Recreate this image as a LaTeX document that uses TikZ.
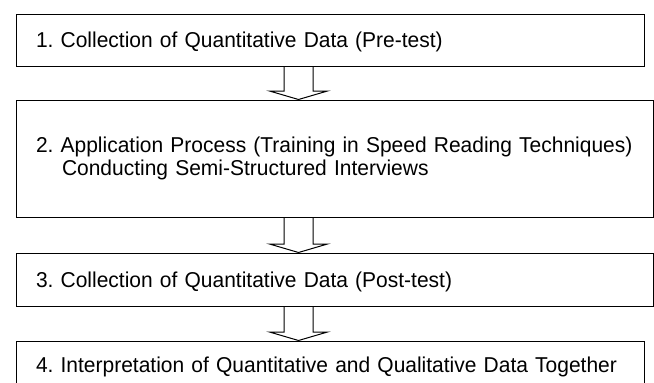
\documentclass[tikz,border=0pt]{standalone}
\usepackage{fontspec}
\setmainfont[FakeStretch=0.976]{Liberation Sans}
\usetikzlibrary{calc}
\frenchspacing

\begin{document}
\begin{tikzpicture}[x=1pt,y=-1pt,
  stagebox/.style={rectangle,draw=black,fill=white,line width=1pt,inner xsep=20pt,inner ysep=0pt,
    align=left,font=\fontsize{21.5}{22.5}\selectfont},
  oneline/.style={text height=15.4pt,text depth=0pt},
  blockarrow/.style={draw=black,line width=1pt,line join=miter}]
\clip (0,0) rectangle (654,383);

\node (b1) at (330,40)[stagebox,oneline,minimum width=628pt,minimum height=52pt,text width=588pt]{\mbox{1. Collection of Quantitative Data (Pre-test)}};
\node (b2) at (334.5,158.5)[stagebox,minimum width=637pt,minimum height=117pt,text width=597pt]{\mbox{2. Application Process (Training in Speed Reading Techniques)}\\\mbox{\hspace*{26pt}Conducting Semi-Structured Interviews}};
\node (b3) at (334.5,279.5)[stagebox,oneline,minimum width=637pt,minimum height=53pt,text width=597pt]{\mbox{3. Collection of Quantitative Data (Post-test)}};
\node (b4) at (330,364.5)[stagebox,oneline,minimum width=628pt,minimum height=47pt,text width=588pt]{\mbox{4. Interpretation of Quantitative and Qualitative Data Together}};

\coordinate (ax) at (298.5,0);
\foreach \a/\b in {b1/b2,b2/b3,b3/b4}{
  \draw[blockarrow] ($(\a.south -| ax)+(-14.5,0)$) -- ($(\b.north -| ax)+(-14.5,-8.5)$) -- ++(-14.5,0)
    -- (\b.north -| ax) -- ++(29,-8.5) -- ++(-14.5,0) -- ($(\a.south -| ax)+(14.5,0)$);
}
\end{tikzpicture}
\end{document}
